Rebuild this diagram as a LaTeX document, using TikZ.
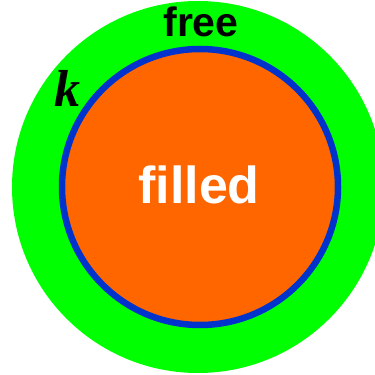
\documentclass[tikz,border=0pt]{standalone}
\usepackage{fontspec}
\setmainfont{Liberation Sans}
\newfontfamily\kfont{Liberation Serif}
\definecolor{freegreen}{HTML}{00FF00}
\definecolor{filledorange}{HTML}{FF6600}
\definecolor{edgeblue}{HTML}{0033CC}
\begin{document}
\begin{tikzpicture}[
  x=1pt, y=1pt,
  freeregion/.style = {fill=freegreen},
  filledregion/.style = {fill=filledorange, draw=edgeblue, line width=6.5pt},
  regionlbl/.style = {font=\fontsize{41}{41}\selectfont\bfseries, anchor=base, inner sep=0pt}
]
  \useasboundingbox (0,0) rectangle (375,375);
  \clip (0,0) rectangle (375,375);
  % free region
  \fill[freeregion] (198,188) circle (186);
  % filled region
  \draw[filledregion] (200,188) circle (138);
  \node[regionlbl] (free) at (201,338) {free};
  \node[regionlbl, font=\fontsize{52}{52}\selectfont\bfseries, text=white] (filled) at (199,171) {filled};
  \node[regionlbl, font=\fontsize{52}{52}\selectfont\kfont\bfseries\itshape] (k) at (67,268) {k};
\end{tikzpicture}
\end{document}
